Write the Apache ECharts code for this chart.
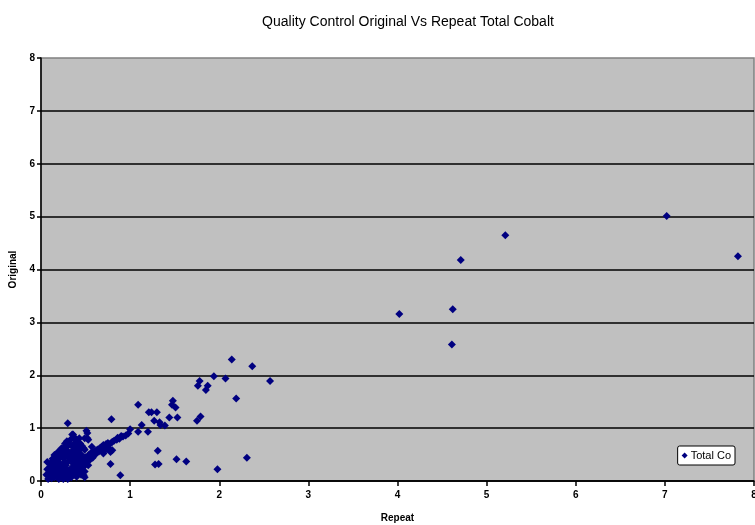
<!DOCTYPE html>
<html>
<head>
<meta charset="utf-8">
<script src="https://cdn.jsdelivr.net/npm/echarts@6/dist/echarts.min.js"></script>
<style>html,body{margin:0;padding:0;background:#fff}#c{width:755px;height:525px}</style>
</head>
<body>
<div id="c"></div>
<script>
var chartTitle = "Quality Control Original Vs Repeat Total Cobalt";
var xName = "Repeat";
var yName = "Original";
var seriesName = "Total Co";
var axisTicks = [0,1,2,3,4,5,6,7,8];

var highPoints = [
 [7.02,5.01],[7.82,4.25],[5.21,4.65],[4.71,4.18],[4.02,3.16],[4.62,3.25],[4.61,2.58],
 [2.14,2.30],[2.37,2.17],[2.57,1.89],[1.94,1.98],[2.07,1.94],[2.19,1.56],[1.78,1.89],[1.76,1.80],[1.87,1.80],[1.85,1.72]
];
var midPoints = [
 [1.09,1.44],[1.48,1.52],[1.51,1.39],[1.47,1.44],[1.21,1.30],[1.24,1.30],[1.30,1.30],[1.44,1.20],[1.53,1.20],
 [1.79,1.22],[1.75,1.14],[0.79,1.17],[1.27,1.14],[1.33,1.11],[1.34,1.06],[1.39,1.05],[1.13,1.06],[1.00,0.98],
 [1.09,0.93],[1.20,0.93],[1.31,0.57],[1.52,0.41],[1.63,0.37],[1.32,0.32],[1.28,0.31],[2.31,0.44],[1.98,0.22],
 [0.89,0.11],[0.78,0.32],[0.30,1.09],[0.36,0.88],[0.52,0.91],[0.52,0.81],[0.49,0.07],[0.34,0.09],[0.07,0.36]
];
var bandPoints = [
 [0.98,0.90],[0.92,0.84],[0.85,0.78],[0.78,0.71],[0.70,0.68],[0.66,0.62],[0.63,0.55],[0.59,0.52],[0.55,0.46],
 [0.51,0.40],[0.48,0.27],[0.49,0.18],[0.78,0.55],[0.70,0.52],[0.36,0.33],[0.38,0.46],[0.48,0.11],
 [0.95,0.86],[0.88,0.80],[0.82,0.76],[0.80,0.74],[0.75,0.72],[0.73,0.70],[0.72,0.66],[0.68,0.65],[0.67,0.60],
 [0.64,0.60],[0.62,0.58],[0.60,0.56],[0.58,0.55],[0.57,0.50],[0.56,0.53],[0.54,0.50],[0.53,0.47],[0.52,0.44],
 [0.50,0.45],[0.50,0.36],[0.49,0.32],[0.47,0.40],[0.46,0.35],[0.86,0.82],[0.90,0.85],[0.76,0.62],[0.74,0.60],[0.80,0.58],
 [0.55,0.40],[0.58,0.44],[0.61,0.50],[0.65,0.56],[0.69,0.62],[0.71,0.58]
];
var clusterPoints = [
 [0.35,0.88],[0.51,0.95],[0.43,0.81],[0.53,0.78],[0.27,0.71],[0.23,0.62],[0.15,0.49],[0.12,0.36],[0.10,0.24],
 [0.08,0.11],[0.30,0.46],[0.34,0.52],[0.25,0.43],[0.49,0.59],[0.57,0.65],[0.60,0.55],[0.49,0.43],[0.53,0.30],
 [0.34,0.11],[0.19,0.24],[0.27,0.18],[0.38,0.30],[0.42,0.43],[0.19,0.11],[0.10,0.07],[0.15,0.07],[0.23,0.07],
 [0.34,0.07],[0.44,0.71],[0.49,0.81],[0.40,0.76],[0.46,0.66],[0.48,0.62],[0.44,0.60],
 [0.12,0.05],[0.14,0.10],[0.16,0.14],[0.18,0.08],[0.20,0.16],[0.22,0.12],[0.24,0.20],[0.26,0.10],[0.28,0.24],
 [0.30,0.14],[0.32,0.20],[0.13,0.18],[0.11,0.15],[0.09,0.20],[0.17,0.30],[0.14,0.28],[0.21,0.34],[0.24,0.30],
 [0.27,0.36],[0.20,0.42],[0.18,0.38],[0.16,0.22],[0.22,0.26],[0.28,0.30],[0.31,0.38],[0.33,0.42],[0.36,0.40],
 [0.40,0.36],[0.42,0.24],[0.44,0.20],[0.40,0.16],[0.37,0.20],[0.35,0.26],[0.25,0.52],[0.22,0.55],[0.28,0.58],
 [0.26,0.64],[0.19,0.55],[0.13,0.42],[0.11,0.30],[0.31,0.55],[0.36,0.58],[0.39,0.62],[0.42,0.65],[0.37,0.70],
 [0.33,0.78],[0.38,0.82],[0.30,0.66],[0.45,0.50],[0.41,0.52],[0.08,0.04],[0.25,0.04],[0.40,0.08],[0.45,0.12],
 [0.06,0.12],[0.07,0.22],
 [0.10,0.12],[0.12,0.22],[0.14,0.34],[0.16,0.40],[0.18,0.46],[0.20,0.50],[0.24,0.46],[0.28,0.50],[0.32,0.48],
 [0.34,0.46],[0.20,0.04],[0.30,0.04],[0.17,0.18],[0.23,0.16],[0.29,0.20],[0.33,0.16],[0.38,0.12],[0.43,0.16],
 [0.46,0.26],[0.44,0.32],[0.42,0.38],[0.39,0.50],[0.36,0.64],[0.32,0.70],[0.29,0.75],[0.40,0.70]
];

var allPoints = highPoints.concat(midPoints, bandPoints, clusterPoints);

var chart = echarts.init(document.getElementById('c'), null, {renderer:'canvas'});
var labelFont = {color:'#000', fontFamily:'Liberation Sans', fontSize:10, fontWeight:'bold'};
chart.setOption({
  animation:false,
  backgroundColor:'#fff',
  title:{
    text:chartTitle, left:403, top:10, textAlign:'center',
    textStyle:{fontFamily:'Liberation Sans', fontSize:14, fontWeight:'normal', color:'#000'}
  },
  legend:{
    right:20, top:446, orient:'vertical',
    data:[{name:seriesName, icon:'diamond'}],
    itemWidth:6, itemHeight:6, itemGap:2,
    backgroundColor:'#fff', borderColor:'#000', borderWidth:1, borderRadius:2,
    padding:[4,4,4,4],
    textStyle:{fontFamily:'Liberation Sans', fontSize:11, color:'#000', padding:[0,0,0,-2]}
  },
  grid:{left:41, top:58, right:1, bottom:44, outerBoundsMode:'none', containLabel:false,
        show:true, backgroundColor:'#c0c0c0', borderColor:'#808080', borderWidth:1.5},
  xAxis:{
    type:'value', min:axisTicks[0], max:axisTicks[axisTicks.length-1], interval:1,
    name:xName, nameLocation:'middle', nameGap:32, nameTextStyle:labelFont,
    axisLine:{show:true, onZero:false, lineStyle:{color:'#000', width:1.5}},
    axisTick:{show:true, length:5, lineStyle:{color:'#000', width:1.5}},
    axisLabel:Object.assign({margin:9}, labelFont),
    splitLine:{show:false}
  },
  yAxis:{
    type:'value', min:axisTicks[0], max:axisTicks[axisTicks.length-1], interval:1,
    name:yName, nameLocation:'middle', nameGap:20, nameRotate:90, nameTextStyle:labelFont,
    axisLine:{show:true, onZero:false, lineStyle:{color:'#000', width:1.5}},
    axisTick:{show:true, length:4, lineStyle:{color:'#000', width:1.5}},
    axisLabel:Object.assign({margin:6}, labelFont),
    splitLine:{show:true, showMaxLine:false, lineStyle:{color:'#000', width:1.5}}
  },
  series:[{
    name:seriesName, type:'scatter', symbol:'diamond', symbolSize:8,
    itemStyle:{color:'#000080', opacity:1},
    data:allPoints
  }]
});
</script>
</body>
</html>
